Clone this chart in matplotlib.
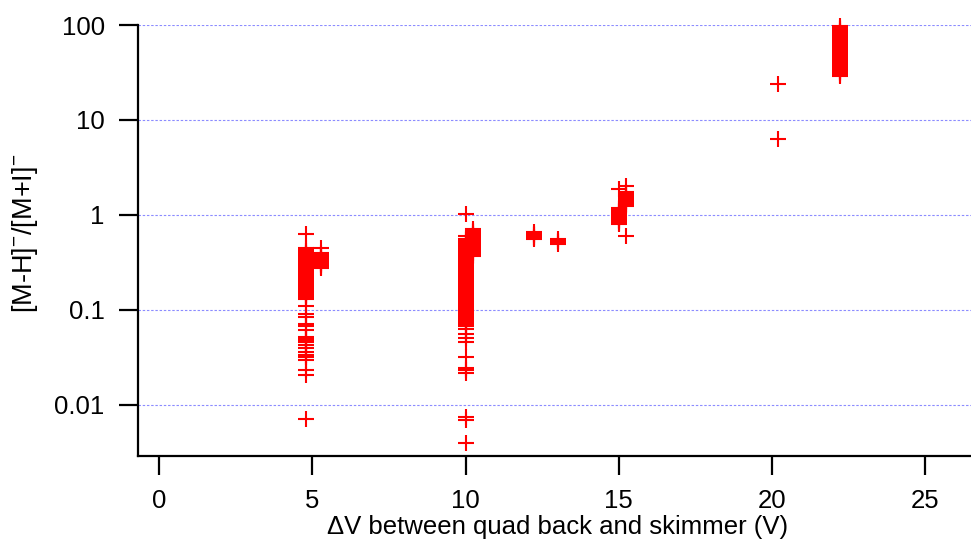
import numpy as np
import matplotlib
matplotlib.use("Agg")
import matplotlib.pyplot as plt

plt.rcParams['font.family'] = ['Liberation Sans', 'DejaVu Sans']
plt.rcParams['mathtext.fontset'] = 'custom'
plt.rcParams['mathtext.rm'] = 'Liberation Sans'
plt.rcParams['mathtext.it'] = 'Liberation Sans'

# voltage settings (V) and the measured ratios at each setting
dv_settings = [4.80, 5.27, 10.02, 10.25, 12.23, 13.02, 15.02, 15.24, 20.2, 22.23]

ratio_4p8 = [0.63, 0.446, 0.428, 0.413, 0.398, 0.384, 0.370, 0.357, 0.344, 0.332,
             0.320, 0.309, 0.298, 0.288, 0.278, 0.268, 0.258, 0.249, 0.240, 0.232,
             0.224, 0.216, 0.208, 0.201, 0.194, 0.187, 0.180, 0.174, 0.168, 0.162,
             0.156, 0.150, 0.145, 0.140, 0.135, 0.130, 0.110, 0.090, 0.084, 0.072,
             0.067, 0.061, 0.0515, 0.0497, 0.048, 0.0465, 0.0428, 0.0397, 0.0365,
             0.0336, 0.0318, 0.0298, 0.0233, 0.0205, 0.0071]
ratio_5p3 = [0.453, 0.395, 0.383, 0.371, 0.359, 0.347, 0.336, 0.325, 0.314, 0.304,
             0.294, 0.284, 0.275]
ratio_10p0 = [1.02, 0.605, 0.560, 0.540, 0.521, 0.502, 0.484, 0.467, 0.450, 0.434,
              0.418, 0.403, 0.389, 0.375, 0.362, 0.349, 0.336, 0.324, 0.313, 0.301,
              0.291, 0.280, 0.270, 0.261, 0.251, 0.242, 0.234, 0.225, 0.217, 0.210,
              0.202, 0.195, 0.188, 0.181, 0.175, 0.168, 0.162, 0.157, 0.151, 0.146,
              0.140, 0.135, 0.130, 0.126, 0.121, 0.117, 0.113, 0.109, 0.105, 0.101,
              0.098, 0.094, 0.091, 0.087, 0.084, 0.081, 0.078, 0.075, 0.072, 0.067,
              0.063, 0.0555, 0.0503, 0.0464, 0.0323, 0.0247, 0.0233, 0.0219,
              0.00753, 0.0070, 0.00395]
ratio_10p3 = [0.706, 0.681, 0.657, 0.633, 0.611, 0.589, 0.568, 0.548, 0.528, 0.509,
              0.491, 0.474, 0.457, 0.440, 0.425, 0.410, 0.395, 0.381, 0.370]
ratio_12p2 = [0.657, 0.633, 0.611, 0.589, 0.568, 0.555]
ratio_13p0 = [0.555, 0.535, 0.515, 0.495]
ratio_15p0 = [1.86, 1.19, 1.15, 1.11, 1.07, 1.03, 0.99, 0.955, 0.92, 0.89, 0.86,
              0.83, 0.80]
ratio_15p2 = [2.02, 1.76, 1.70, 1.64, 1.58, 1.52, 1.47, 1.42, 1.37, 1.32, 1.28,
              1.25, 0.60]
ratio_20p2 = [23.9, 6.27]
ratio_22p2 = [97.6, 94.0, 90.5, 87.0, 84.0, 81.0, 78.0, 75.0, 72.5, 70.0, 67.5,
              65.0, 62.5, 60.0, 58.0, 56.0, 54.0, 52.0, 50.0, 48.0, 46.5, 45.0,
              43.0, 41.5, 40.0, 38.5, 37.0, 35.5, 34.5, 33.0, 32.0, 31.0, 30.0, 29.1]

groups = [ratio_4p8, ratio_5p3, ratio_10p0, ratio_10p3, ratio_12p2, ratio_13p0,
          ratio_15p0, ratio_15p2, ratio_20p2, ratio_22p2]
x = np.concatenate([[v] * len(g) for v, g in zip(dv_settings, groups)])
y = np.concatenate(groups)

fig = plt.figure(figsize=(9.71, 5.5), dpi=100)
ax = fig.add_axes([138 / 971, 1 - 456 / 550, (971 - 138) / 971, (456 - 25) / 550])

ax.plot(x, y, linestyle='none', marker='+', markersize=11.5,
        markeredgewidth=1.5, color='#ff0000', clip_on=False)

ax.set_yscale('log')
ax.set_ylim(0.0029, 100)
ax.set_xlim(-0.69, 26.5)
ax.set_xticks([0, 5, 10, 15, 20, 25])
ax.set_yticks([0.01, 0.1, 1, 10, 100])
ax.set_yticklabels(['0.01', '0.1', '1', '10', '100'])
ax.yaxis.set_minor_locator(matplotlib.ticker.NullLocator())

ax.grid(axis='y', which='major', color='#8c8cff', linewidth=0.8,
        linestyle=(0, (2.2, 1.6)))
ax.set_axisbelow(True)

for s in ['top', 'right']:
    ax.spines[s].set_visible(False)
for s in ['left', 'bottom']:
    ax.spines[s].set_linewidth(1.6)
ax.tick_params(axis='both', direction='out', length=14, width=1.6,
               labelsize=18.5, pad=10, color='black')

ax.set_xlabel('ΔV between quad back and skimmer (V)', fontsize=18.5)
ax.set_ylabel(r'[M-H]$^{-}$/[M+I]$^{-}$', fontsize=19.5)
ax.xaxis.set_label_coords(0.504, -0.136)
ax.yaxis.set_label_coords(-0.118, 0.517)

fig.savefig('out.png', dpi=100)
